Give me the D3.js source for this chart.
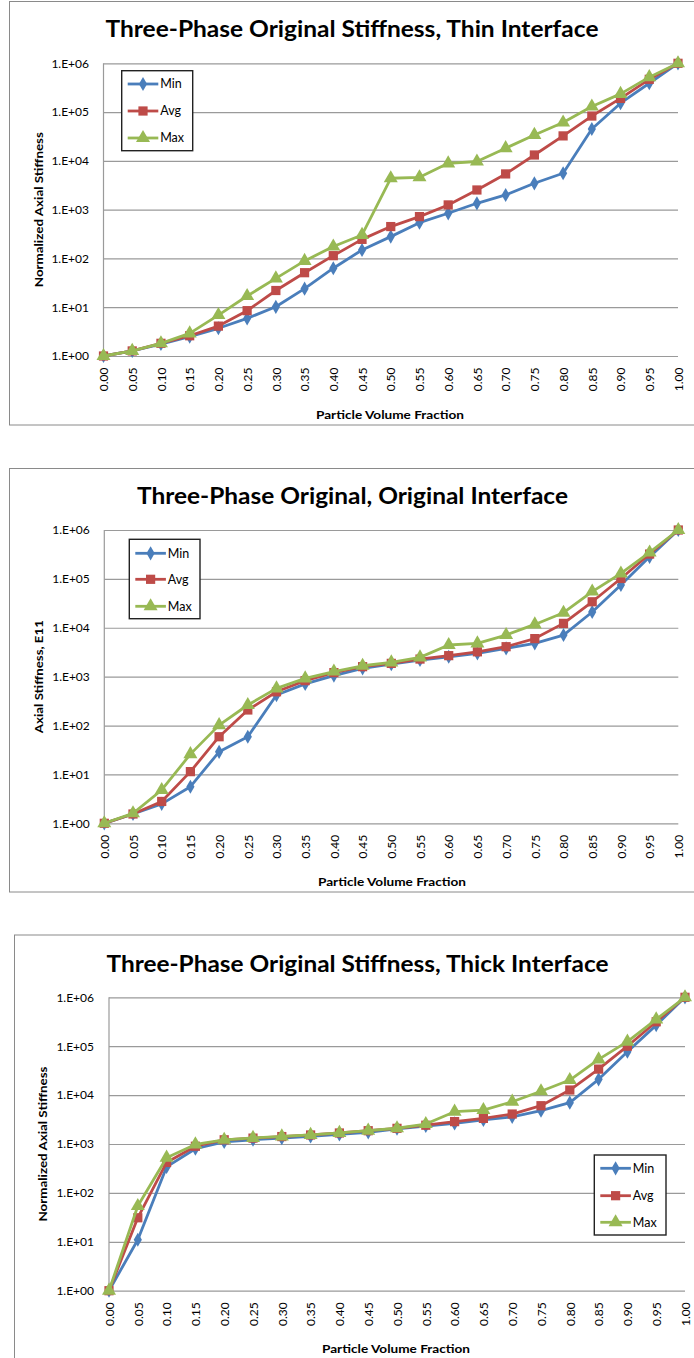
<!DOCTYPE html>
<html>
<head>
<meta charset="utf-8">
<script src="https://cdn.jsdelivr.net/npm/d3@7"></script>
<style>
  body { margin: 0; background: #fff; }
  svg { display: block; font-family: Lato, "Open Sans", sans-serif; }
</style>
</head>
<body>
<svg id="chart" width="694" height="1358"></svg>
<script>
// particle volume fraction (categories)
const fractions = [0.00, 0.05, 0.10, 0.15, 0.20, 0.25, 0.30, 0.35, 0.40, 0.45, 0.50,
                   0.55, 0.60, 0.65, 0.70, 0.75, 0.80, 0.85, 0.90, 0.95, 1.00];
const yTickValues = [1, 10, 100, 1000, 10000, 100000, 1000000];
const yTickLabels = ["1.E+00", "1.E+01", "1.E+02", "1.E+03", "1.E+04", "1.E+05", "1.E+06"];
const seriesNames = ["Min", "Avg", "Max"];

// thin interface
const thinMin = [1, 1.27, 1.76, 2.5, 3.7, 5.9, 10.2, 24, 63, 149, 280, 540, 842, 1350, 2000, 3470, 5570, 45000, 152000, 390000, 1000000];
const thinAvg = [1, 1.27, 1.82, 2.6, 4.1, 8.5, 22, 51, 114, 246, 450, 720, 1250, 2530, 5400, 13200, 32500, 83000, 191000, 470000, 1000000];
const thinMax = [1, 1.27, 1.82, 2.9, 6.9, 17, 39, 89, 175, 303, 4400, 4600, 8900, 9700, 18200, 34000, 61000, 130000, 236000, 520000, 1000000];

// original interface
const origMin = [1, 1.55, 2.5, 5.6, 29, 59, 420, 710, 1050, 1480, 1800, 2190, 2550, 3000, 3800, 4800, 7100, 21000, 75000, 282000, 1000000];
const origAvg = [1, 1.55, 2.8, 11.4, 59, 208, 490, 830, 1210, 1600, 1870, 2290, 2690, 3220, 4100, 6000, 12300, 34000, 102000, 322000, 1000000];
const origMax = [1, 1.6, 4.8, 26, 102, 263, 575, 920, 1270, 1670, 1960, 2480, 4440, 4800, 7100, 11700, 20300, 55000, 129000, 347000, 1000000];

// thick interface
const thickMin = [1, 11, 340, 800, 1100, 1220, 1320, 1430, 1570, 1730, 2050, 2330, 2640, 3100, 3600, 4800, 7000, 21000, 77000, 270000, 1000000];
const thickAvg = [1, 31, 420, 900, 1220, 1320, 1420, 1530, 1680, 1870, 2090, 2420, 2870, 3340, 4100, 6070, 12700, 34000, 100000, 316000, 1000000];
const thickMax = [1, 54, 525, 980, 1220, 1330, 1430, 1540, 1690, 1880, 2100, 2560, 4580, 4950, 7330, 12000, 20300, 53800, 124000, 354000, 1000000];

const colors = ["#4A7EBB", "#BE4B48", "#98B954"];
const symbols = [d3.symbolDiamond, d3.symbolSquare, d3.symbolTriangle];
const symSizes = [58, 85, 85];

const charts = [
  {
    title: "Three-Phase Original Stiffness, Thin Interface", titleX: 352, titleY: 37, titleW: 493,
    frame: [9.5, 1.5, 700, 423.5],
    plot: { left: 103.5, right: 678, top: 63.3, bottom: 356 },
    yLabel: "Normalized Axial Stiffness", yLabelX: 38, yLabelW: 155, yLabelPad: 14.5,
    xLabelX: 390, xLabelY: 419,
    legend: { x: 121.7, y: 70.7, w: 71, h: 80, rows: [84, 111, 138] },
    series: [thinMin, thinAvg, thinMax]
  },
  {
    title: "Three-Phase Original, Original Interface", titleX: 352.5, titleY: 504, titleW: 431,
    frame: [9.5, 468.5, 700, 423.5],
    plot: { left: 104.3, right: 678.3, top: 530, bottom: 823.3 },
    yLabel: "Axial Stiffness,  E11", yLabelX: 38, yLabelW: 113, yLabelPad: 14.5,
    xLabelX: 392, xLabelY: 886,
    legend: { x: 129.3, y: 539.3, w: 70.7, h: 79.4, rows: [553.3, 579.3, 606.3] },
    series: [origMin, origAvg, origMax]
  },
  {
    title: "Three-Phase Original Stiffness, Thick Interface", titleX: 357.5, titleY: 971.5, titleW: 502,
    frame: [14.5, 935, 700, 440],
    plot: { left: 109, right: 685, top: 997.3, bottom: 1290.7 },
    yLabel: "Normalized Axial Stiffness", yLabelX: 42.5, yLabelW: 155, yLabelPad: 15,
    xLabelX: 396, xLabelY: 1353,
    legend: { x: 594.3, y: 1155, w: 71.7, h: 80, rows: [1168.3, 1195.7, 1222.3] },
    series: [thickMin, thickAvg, thickMax]
  }
];

const svg = d3.select("#chart");

charts.forEach(c => {
  const g = svg.append("g");
  const p = c.plot;

  // chart frame
  g.append("rect")
    .attr("x", c.frame[0]).attr("y", c.frame[1])
    .attr("width", c.frame[2]).attr("height", c.frame[3])
    .attr("fill", "#fff").attr("stroke", "#8a8a8a").attr("stroke-width", 1);

  // title
  g.append("text")
    .attr("x", c.titleX).attr("y", c.titleY)
    .attr("text-anchor", "middle")
    .attr("font-size", 22).attr("font-weight", "bold")
    .attr("textLength", c.titleW).attr("lengthAdjust", "spacingAndGlyphs")
    .attr("fill", "#000")
    .text(c.title);

  const x = d3.scaleLinear().domain([0, 1]).range([p.left, p.right]);
  const y = d3.scaleLog().domain([1, 1e6]).range([p.bottom, p.top]);

  // y axis with gridlines
  const yAxis = d3.axisLeft(y)
    .tickValues(yTickValues)
    .tickFormat((d, i) => yTickLabels[i])
    .tickSize(-(p.right - p.left))
    .tickPadding(c.yLabelPad);
  const ya = g.append("g")
    .attr("transform", `translate(${p.left},0)`)
    .call(yAxis);
  ya.select(".domain").remove();
  ya.selectAll("line").attr("stroke", "#9a9a9a").attr("stroke-width", 1.2);
  ya.selectAll("text").attr("font-size", 12).attr("fill", "#000")
    .attr("font-family", "Lato, sans-serif");

  // left axis line
  g.append("line")
    .attr("x1", p.left).attr("x2", p.left)
    .attr("y1", p.top).attr("y2", p.bottom)
    .attr("stroke", "#9a9a9a").attr("stroke-width", 1.2);

  // x axis
  const xAxis = d3.axisBottom(x)
    .tickValues(fractions)
    .tickFormat(d3.format(".2f"))
    .tickSize(0);
  const xa = g.append("g")
    .attr("transform", `translate(0,${p.bottom})`)
    .call(xAxis);
  xa.select(".domain").remove();
  xa.selectAll("text")
    .attr("font-size", 12).attr("fill", "#000")
    .attr("font-family", "Lato, sans-serif")
    .attr("transform", "rotate(-90)")
    .attr("text-anchor", "end")
    .attr("x", -11.5).attr("y", 0).attr("dy", "0.35em");

  // axis titles
  g.append("text")
    .attr("x", c.xLabelX).attr("y", c.xLabelY)
    .attr("text-anchor", "middle")
    .attr("font-size", 12).attr("font-weight", "bold")
    .attr("textLength", 148).attr("lengthAdjust", "spacingAndGlyphs")
    .text("Particle Volume Fraction");

  const yMid = (p.top + p.bottom) / 2;
  g.append("text")
    .attr("transform", `translate(${c.yLabelX},${yMid}) rotate(-90)`)
    .attr("text-anchor", "middle")
    .attr("dominant-baseline", "central")
    .attr("font-size", 11.5).attr("font-weight", "bold")
    .attr("textLength", c.yLabelW).attr("lengthAdjust", "spacingAndGlyphs")
    .text(c.yLabel);

  // series
  const line = d3.line().x((d, i) => x(fractions[i])).y(d => y(d));
  c.series.forEach((vals, si) => {
    g.append("path")
      .datum(vals)
      .attr("d", line)
      .attr("fill", "none")
      .attr("stroke", colors[si])
      .attr("stroke-width", 2.8)
      .attr("stroke-linejoin", "round");
    g.selectAll(null)
      .data(vals)
      .join("path")
      .attr("transform", (d, i) => `translate(${x(fractions[i])},${y(d)})`)
      .attr("d", d3.symbol().type(symbols[si]).size(symSizes[si]))
      .attr("fill", colors[si]);
  });

  // legend
  const L = c.legend;
  const lg = g.append("g");
  lg.append("rect")
    .attr("x", L.x).attr("y", L.y).attr("width", L.w).attr("height", L.h)
    .attr("fill", "#fff").attr("stroke", "#222").attr("stroke-width", 1.4);
  seriesNames.forEach((name, si) => {
    const ly = L.rows[si];
    lg.append("line")
      .attr("x1", L.x + 6).attr("x2", L.x + 36.6)
      .attr("y1", ly).attr("y2", ly)
      .attr("stroke", colors[si]).attr("stroke-width", 2.8);
    lg.append("path")
      .attr("transform", `translate(${L.x + 21.3},${ly})`)
      .attr("d", d3.symbol().type(symbols[si]).size(symSizes[si]))
      .attr("fill", colors[si]);
    lg.append("text")
      .attr("x", L.x + 38.5).attr("y", ly)
      .attr("dy", "0.35em")
      .attr("font-size", 12.5)
      .text(name);
  });
});
</script>
</body>
</html>
